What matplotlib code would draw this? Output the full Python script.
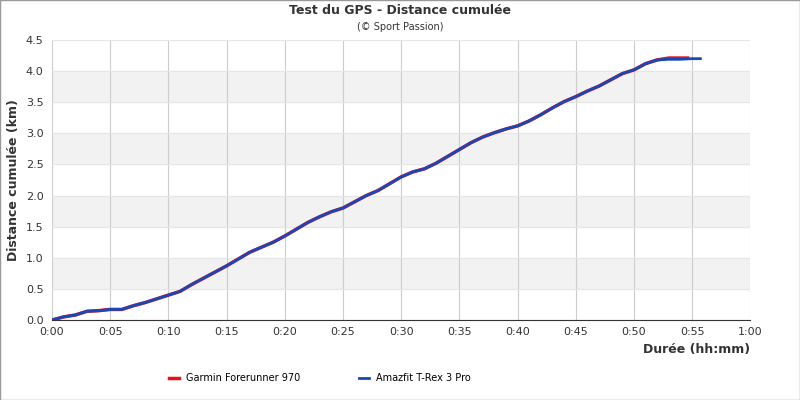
import matplotlib
matplotlib.use('Agg')
import matplotlib.pyplot as plt
from matplotlib.ticker import FuncFormatter, MultipleLocator

minutes = [0, 1, 2, 3, 4, 5, 6, 7, 8, 9, 10, 11, 12, 13, 14, 15, 16, 17, 18, 19, 20,
           21, 22, 23, 24, 25, 26, 27, 28, 29, 30, 31, 32, 33, 34, 35, 36, 37, 38, 39, 40,
           41, 42, 43, 44, 45, 46, 47, 48, 49, 50, 51, 52, 53, 54, 55, 55.7]
amazfit = [0, 0.05, 0.08, 0.14, 0.15, 0.17, 0.17, 0.23, 0.28, 0.34, 0.40, 0.46, 0.57, 0.67,
           0.77, 0.87, 0.98, 1.09, 1.17, 1.25, 1.35, 1.46, 1.57, 1.66, 1.74, 1.80, 1.90, 2.00,
           2.08, 2.19, 2.30, 2.38, 2.43, 2.52, 2.63, 2.74, 2.85, 2.94, 3.01, 3.07, 3.12, 3.20,
           3.30, 3.41, 3.51, 3.59, 3.68, 3.76, 3.86, 3.96, 4.02, 4.12, 4.18, 4.19, 4.19, 4.20, 4.20]
garmin_min = minutes[:-2] + [54.6]
garmin = amazfit[:53] + [4.21, 4.21, 4.21]

fig = plt.figure(figsize=(8, 4), dpi=100)
ax = fig.add_axes([0.065, 0.2, 0.873, 0.7])
for lo in [0.5, 1.5, 2.5, 3.5]:
    ax.axhspan(lo, lo + 0.5, color='#f2f2f2', zorder=0)
ax.plot(garmin_min, garmin, color='#e8101a', lw=2.5, label='Garmin Forerunner 970', zorder=3)
ax.plot(minutes, amazfit, color='#1548b8', lw=2, label='Amazfit T-Rex 3 Pro', zorder=4)
ax.set_xlim(0, 60)
ax.set_ylim(0, 4.5)
ax.xaxis.set_major_locator(MultipleLocator(5))
ax.yaxis.set_major_locator(MultipleLocator(0.5))
ax.xaxis.set_major_formatter(FuncFormatter(lambda v, p: '%d:%02d' % (v // 60, v % 60)))
ax.yaxis.set_major_formatter(FuncFormatter(lambda v, p: '%.1f' % v))
ax.grid(axis='x', color='#cccccc', lw=0.8)
ax.grid(axis='y', color='#e6e6e6', lw=0.8)
for s in ax.spines.values():
    s.set_visible(False)
ax.spines['bottom'].set_visible(True)
ax.spines['bottom'].set_color('#333333')
ax.tick_params(labelsize=8, colors='#333333', length=0)
ax.tick_params(axis='x', pad=5)
ax.tick_params(axis='y', pad=6)
ax.set_xlabel('Durée (hh:mm)', fontsize=9, fontweight='bold', color='#333333', loc='right')
ax.set_ylabel('Distance cumulée (km)', fontsize=9, fontweight='bold', color='#333333')
fig.text(0.5, 0.965, 'Test du GPS - Distance cumulée', ha='center', fontsize=9, fontweight='bold', color='#333333')
fig.text(0.5, 0.925, '(© Sport Passion)', ha='center', fontsize=7, color='#333333')
fig.legend(loc='lower center', ncol=2, frameon=False, fontsize=7, bbox_to_anchor=(0.4, 0.02),
           handlelength=1, columnspacing=6)
fig.patches.append(plt.Rectangle((0, 0), 1, 1, transform=fig.transFigure, fill=False,
                                 edgecolor='#999999', lw=1))
fig.savefig('out.png')
